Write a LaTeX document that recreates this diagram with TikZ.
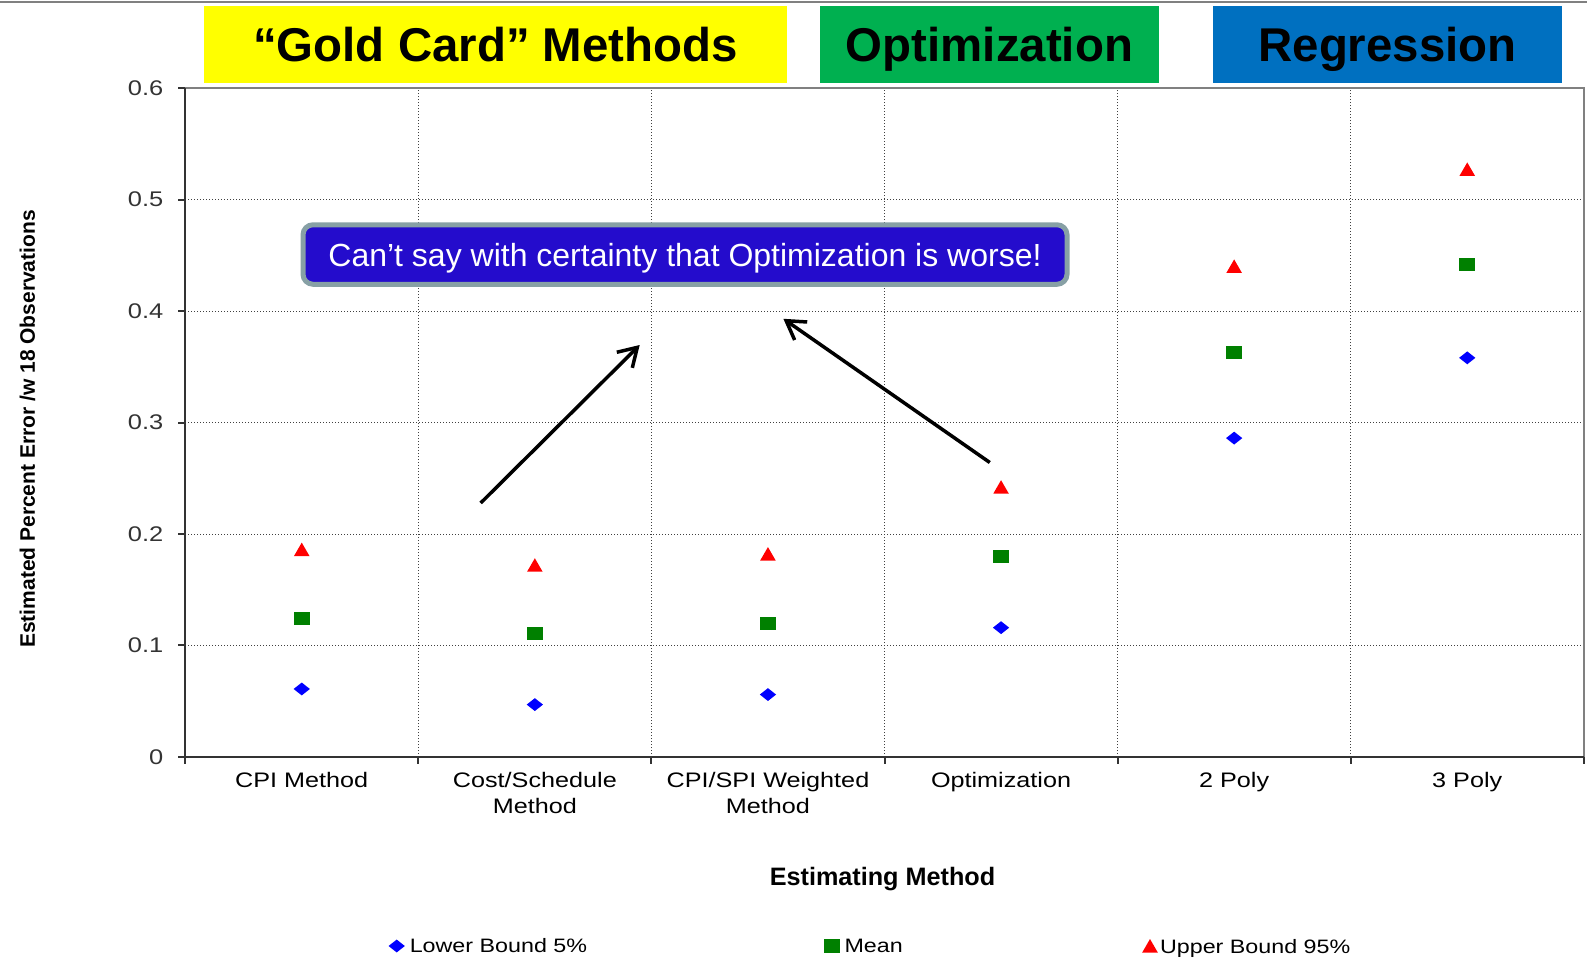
\documentclass[tikz,border=0pt]{standalone}
\usepackage{fontspec}
\setmainfont{Liberation Sans}
\newfontfamily\chartfont{Liberation Sans}[FakeStretch=1.2]
\usetikzlibrary{arrows.meta,shapes.geometric,positioning}
\definecolor{CardYellow}{RGB}{255,255,0}
\definecolor{OptGreen}{RGB}{0,176,80}
\definecolor{RegBlue}{RGB}{0,112,192}
\definecolor{NoteBlue}{RGB}{36,12,204}
\definecolor{NoteEdge}{RGB}{135,160,165}
\definecolor{LowBlue}{RGB}{0,0,255}
\definecolor{MeanGreen}{RGB}{0,128,0}
\definecolor{UpRed}{RGB}{255,0,0}

\begin{document}
\begin{tikzpicture}[x=0.5pt,y=-0.5pt,>=Latex,
  banner/.style={minimum height=38.5pt,inner sep=0pt,text height=17pt,text depth=0pt,
    font=\fontsize{23.7}{26}\selectfont\bfseries},
  gridline/.style={densely dotted,line width=0.5pt,black!75},
  axisline/.style={line width=1pt,black!80},
  frameline/.style={line width=1pt,black!50},
  ticktext/.style={font=\chartfont\fontsize{10.6}{12}\selectfont,inner sep=0pt,anchor=east},
  catlabel/.style={font=\chartfont\fontsize{10.5}{12.8}\selectfont,align=center,inner sep=0pt,anchor=north},
  lowmark/.style={diamond,fill=LowBlue,minimum width=8.3pt,minimum height=6.6pt,inner sep=0pt},
  meanmark/.style={rectangle,fill=MeanGreen,minimum width=7.8pt,minimum height=6.6pt,inner sep=0pt},
  upmark/.style={regular polygon,regular polygon sides=3,fill=UpRed,minimum size=9pt,inner sep=0pt,yshift=-1pt},
  keytext/.style={font=\chartfont\fontsize{9.7}{11}\selectfont,inner sep=0pt},
  notebox/.style={draw=NoteEdge,line width=2.5pt,fill=NoteBlue,rounded corners=5pt,
    minimum width=382pt,minimum height=29.75pt,text height=11.5pt,text depth=0pt,
    text=white,font=\fontsize{16}{18}\selectfont},
  pointer/.style={line width=1.75pt,-{Straight Barb[length=9pt,width=11pt]}}]
  \useasboundingbox (0,0) rectangle (1587,959);
  \draw[frameline] (0,2) -- (1587,2);

  \node[banner,fill=CardYellow,minimum width=291.5pt] (gold) at (495.5,44.5) {``Gold Card'' Methods};
  \node[banner,fill=OptGreen,minimum width=169.5pt] (optim) at (989.5,44.5) {Optimization};
  \node[banner,fill=RegBlue,minimum width=174.5pt] (regr) at (1387.5,44.5) {Regression};

  \begin{scope}[shift={(185.2,757)},x=116.55pt,y=557.5pt]
    \foreach \v in {0.1,0.2,0.3,0.4,0.5}
      \draw[gridline] (0,\v) -- (6,\v);
    \foreach \c in {1,...,5}
      \draw[gridline] (\c,0) -- (\c,0.6);
    \draw[frameline] (0,0.6) -- (6,0.6) -- (6,0);
    \draw[axisline] (0,0.6) -- (0,0) -- (6,0);
    \foreach \v in {0,0.1,0.2,0.3,0.4,0.5,0.6}
      \draw[axisline] (-0.03,\v) -- (0,\v) node[ticktext] at (-0.09,\v) {\v};
    \foreach \c in {0,...,6}
      \draw[axisline] (\c,0) -- (\c,-0.006);
    \foreach \i/\lab/\lo/\mn/\up in {1/{CPI Method}/0.061/0.124/0.186,
        2/{Cost/Schedule\\Method}/0.047/0.111/0.172,
        3/{CPI/SPI Weighted\\Method}/0.056/0.120/0.182,
        4/{Optimization}/0.116/0.180/0.242,
        5/{2 Poly}/0.286/0.363/0.440,
        6/{3 Poly}/0.358/0.442/0.527}{
      \node[catlabel] (cat\i) at (\i-0.5,-0.0135) {\lab};
      \node[lowmark] (lo\i) at (\i-0.5,\lo) {};
      \node[meanmark] (mn\i) at (\i-0.5,\mn) {};
      \node[upmark] (up\i) at (\i-0.5,\up) {};
    }
  \end{scope}

  \node[rotate=90,font=\fontsize{10.5}{13}\selectfont\bfseries] (ytitle) at (27.5,429)
    {Estimated Percent Error /w 18 Observations};
  \node[font=\fontsize{12.6}{14}\selectfont\bfseries] (xtitle) at (882.5,879.5) {Estimating Method};

  \node[notebox] (note) at (685,254.5) {Can’t say with certainty that Optimization is worse!};
  \coordinate (p1s) at (480.7,503);
  \coordinate (p1e) at (639.7,345);
  \coordinate (p2s) at (989.8,462.5);
  \coordinate (p2e) at (783.4,318.8);
  \draw[pointer] (p1s) -- (p1e);
  \draw[pointer] (p2s) -- (p2e);

  \node[lowmark] (keylo) at (396.7,946) {};
  \node[keytext,right=2pt of keylo] (keylotext) {Lower Bound 5\%};
  \node[meanmark] (keymn) at (832,946) {};
  \node[keytext,right=2pt of keymn] (keymntext) {Mean};
  \node[upmark] (keyup) at (1150,946) {};
  \node[keytext,right=2pt of keyup] (keyuptext) {Upper Bound 95\%};
\end{tikzpicture}
\end{document}
